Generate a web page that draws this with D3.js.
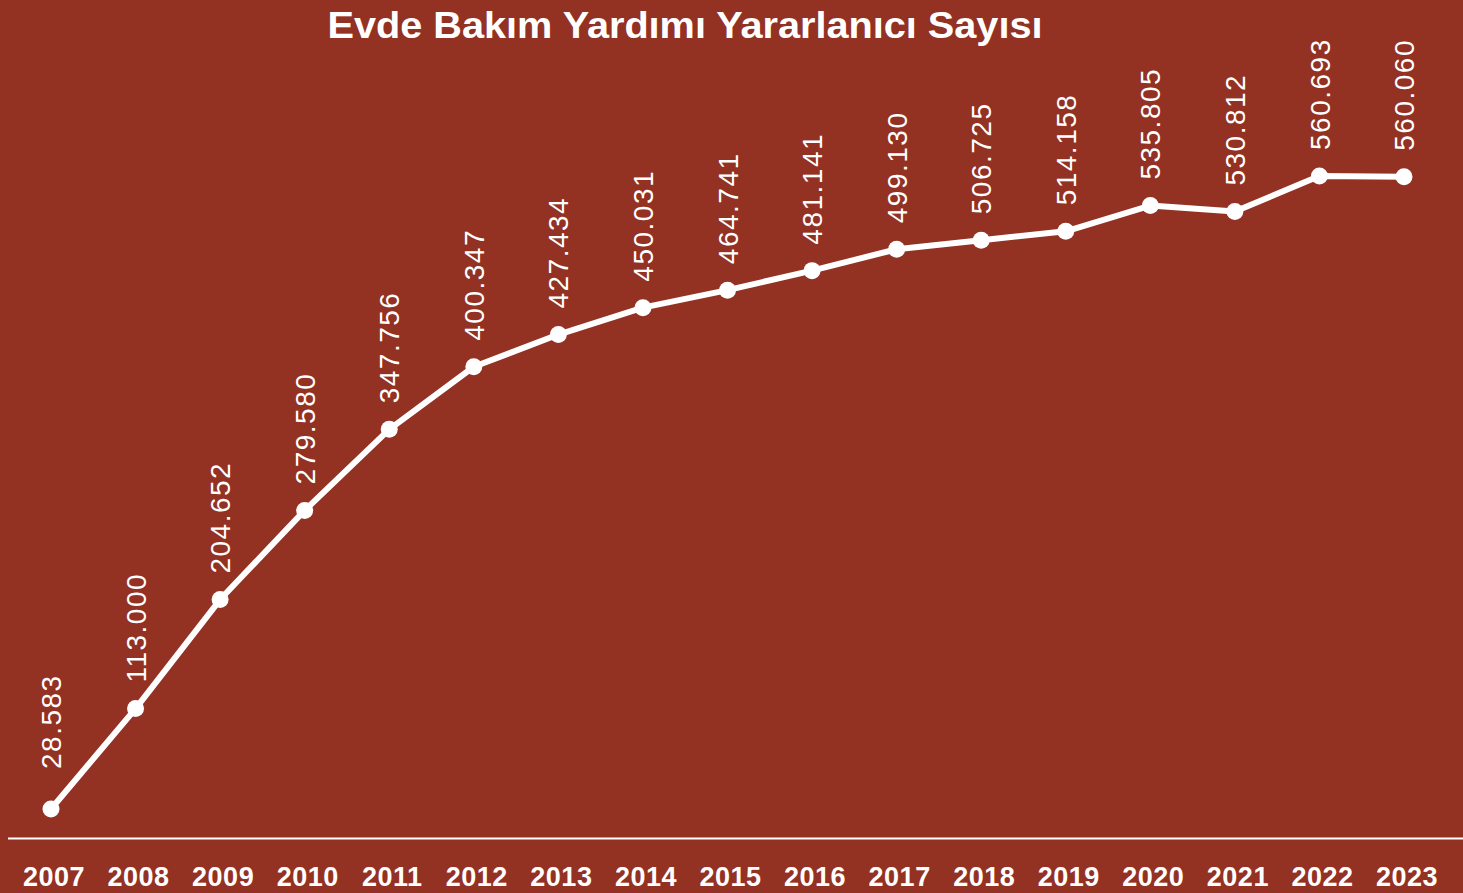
<!DOCTYPE html>
<html>
<head>
<meta charset="utf-8">
<script src="https://cdn.jsdelivr.net/npm/d3@7"></script>
<style>
  html, body { margin: 0; padding: 0; background: #933123; }
  svg { display: block; }
</style>
</head>
<body>
<div id="chart"></div>
<script>
const years = ['2007', '2008', '2009', '2010', '2011', '2012', '2013', '2014', '2015',
    '2016', '2017', '2018', '2019', '2020', '2021', '2022', '2023']
const values = [28583, 113000, 204652, 279580, 347756, 400347, 427434, 450031, 464741,
    481141, 499130, 506725, 514158, 535805, 530812, 560693, 560060]
const title = 'Evde Bakım Yardımı Yararlanıcı Sayısı'

const width = 1463
const height = 893
const bg = '#933123'

const data = years.map((y, i) => ({ year: y, value: values[i] }))

const svg = d3.select('#chart').append('svg')
    .attr('width', width)
    .attr('height', height)

svg.append('rect')
    .attr('width', width)
    .attr('height', height)
    .attr('fill', bg)

const x = d3.scalePoint().domain(years).range([51, 1404])
const y = d3.scaleLinear().domain([0, 560693]).range([843, 176])

// title
svg.append('text')
    .attr('x', 685)
    .attr('y', 38)
    .attr('text-anchor', 'middle')
    .attr('fill', '#fff')
    .attr('font-family', 'Liberation Sans, Arial, sans-serif')
    .attr('font-weight', 'bold')
    .attr('font-size', 37)
    .attr('textLength', 715)
    .attr('lengthAdjust', 'spacingAndGlyphs')
    .text(title)

// baseline
svg.append('line')
    .attr('x1', 8)
    .attr('x2', width)
    .attr('y1', 838.5)
    .attr('y2', 838.5)
    .attr('stroke', '#fff')
    .attr('stroke-width', 2)

// year labels
svg.append('g').selectAll('text').data(years).enter()
    .append('text')
    .attr('x', d => x(d) + 3)
    .attr('y', 886)
    .attr('text-anchor', 'middle')
    .attr('fill', '#fff')
    .attr('font-family', 'Liberation Sans, Arial, sans-serif')
    .attr('font-weight', 'bold')
    .attr('font-size', 27)
    .attr('letter-spacing', 0.5)
    .text(d => d)

const line = d3.line().x(d => x(d.year)).y(d => y(d.value))

svg.append('path')
    .datum(data)
    .attr('d', line)
    .attr('fill', 'none')
    .attr('stroke', '#fff')
    .attr('stroke-width', 6)
    .attr('stroke-linejoin', 'round')

svg.append('g').selectAll('circle').data(data).enter()
    .append('circle')
    .attr('cx', d => x(d.year))
    .attr('cy', d => y(d.value))
    .attr('r', 8.5)
    .attr('fill', '#fff')

const fmt = v => d3.format(',')(v).replace(/,/g, '.')

svg.append('g').selectAll('text').data(data).enter()
    .append('text')
    .attr('transform', (d, i) => `translate(${x(d.year)},${y(d.value) - (i === 0 ? 40 : 26)}) rotate(-90)`)
    .attr('dy', '0.36em')
    .attr('fill', '#fff')
    .attr('font-family', 'Liberation Sans, Arial, sans-serif')
    .attr('font-size', 28)
    .attr('letter-spacing', 1.5)
    .text(d => fmt(d.value))
</script>
</body>
</html>
